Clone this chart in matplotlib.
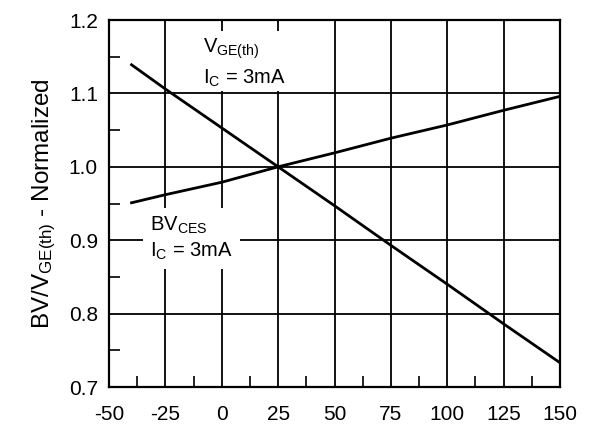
import numpy as np
import matplotlib.pyplot as plt
from matplotlib.ticker import MultipleLocator

plt.rcParams['font.family'] = ['Liberation Sans', 'DejaVu Sans']
plt.rcParams['mathtext.fontset'] = 'custom'
plt.rcParams['mathtext.rm'] = 'Liberation Sans'
plt.rcParams['mathtext.it'] = 'Liberation Sans'
plt.rcParams['axes.unicode_minus'] = False

# junction temperature (C) and normalized values
temp = [-40, -25, 0, 25, 50, 75, 100, 125, 150]
vge_th = [1.139, 1.106, 1.053, 1.000, 0.947, 0.893, 0.840, 0.786, 0.733]
bv_ces = [0.951, 0.962, 0.979, 1.000, 1.019, 1.039, 1.057, 1.077, 1.096]

xticks = [-50, -25, 0, 25, 50, 75, 100, 125, 150]
yticks = [0.7, 0.8, 0.9, 1.0, 1.1, 1.2]

fig = plt.figure(figsize=(5.94, 4.25), dpi=100)
ax = fig.add_axes([0.1835, 0.0894, 0.7593, 0.8635])

ax.plot(temp, vge_th, color='black', lw=2.0, zorder=3)
ax.plot(temp, bv_ces, color='black', lw=2.0, zorder=3)

ax.set_xlim(-50, 150)
ax.set_ylim(0.7, 1.2)
ax.set_xticks(xticks)
ax.set_yticks(yticks)
ax.set_yticklabels(['%.1f' % v for v in yticks])
ax.xaxis.set_minor_locator(MultipleLocator(12.5))
ax.yaxis.set_minor_locator(MultipleLocator(0.05))
ax.tick_params(which='major', length=0, labelsize=15)
ax.tick_params(axis='x', which='major', pad=13)
ax.tick_params(axis='y', which='major', pad=8)
ax.tick_params(which='minor', direction='in', length=8, width=1.2,
               top=False, right=False)
ax.grid(True, which='major', color='black', lw=1.3, zorder=1)
for s in ax.spines.values():
    s.set_linewidth(1.6)

ax.set_ylabel(r'BV/V$_{\mathregular{GE(th)}}$ - Normalized', fontsize=17.5,
              labelpad=8)

# white patches behind the curve labels hide the grid underneath
box = dict(facecolor='white', edgecolor='none', boxstyle='square,pad=0.08')
ax.text(-8.5, 1.142, 'V$_{\\mathregular{GE(th)}}$\nI$_{\\mathregular{C}}$ = 3mA',
        fontsize=14.5, ha='left', va='center', linespacing=1.45,
        bbox=box, zorder=2)
ax.text(-31.8, 0.902, 'BV$_{\\mathregular{CES}}$\nI$_{\\mathregular{C}}$ = 3mA',
        fontsize=14.5, ha='left', va='center', linespacing=1.3,
        bbox=dict(facecolor='white', edgecolor='none',
                  boxstyle='square,pad=0.35'), zorder=2)

fig.savefig('out.png', dpi=100)
